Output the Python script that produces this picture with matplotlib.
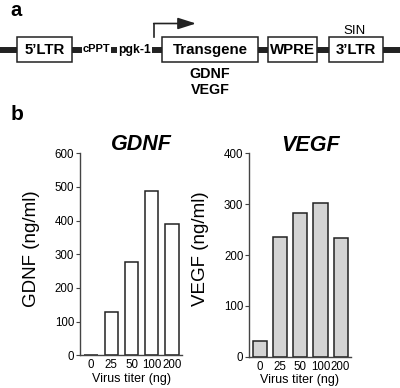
import matplotlib
matplotlib.use("Agg")
import matplotlib.pyplot as plt
from matplotlib.patches import Rectangle

plt.rcParams['font.family'] = ['Liberation Sans', 'DejaVu Sans']

# data
titers = ["0", "25", "50", "100", "200"]
gdnf = [0, 130, 276, 487, 389]
vegf = [31, 235, 283, 302, 233]

# construct map (panel a)
box_labels = ["5\u2019LTR", "Transgene", "WPRE", "3\u2019LTR"]
box_spans = [(17.3, 71.7), (161.7, 258.3), (268.3, 316.7), (329.3, 383.3)]
small_labels = ["cPPT", "pgk-1"]
small_x = [96.5, 134.5]
transgenes = ["GDNF", "VEGF"]

fig = plt.figure(figsize=(4.0, 3.88), dpi=100)

# diagram axes in pixel coordinates
ax0 = fig.add_axes([0, 0, 1, 1])
ax0.set_xlim(0, 400)
ax0.set_ylim(388, 0)
ax0.axis('off')

ax0.plot([0, 400], [50, 50], color='#222222', lw=4.3, solid_capstyle='butt', zorder=1)
for lab, (x0, x1) in zip(box_labels, box_spans):
    ax0.add_patch(Rectangle((x0, 37.3), x1 - x0, 24.4, facecolor='white',
                            edgecolor='#222222', lw=1.1, zorder=2))
    ax0.text((x0 + x1) / 2, 49.8, lab, ha='center', va='center',
             fontsize=10.8, fontweight='bold', zorder=3)
for lab, x, fs in zip(small_labels, small_x, [8.0, 8.7]):
    ax0.text(x, 49.5, lab, ha='center', va='center', fontsize=fs, fontweight='bold',
             zorder=3, bbox=dict(facecolor='white', edgecolor='none', pad=0.8))
for lab, y in zip(transgenes, [73.5, 90]):
    ax0.text(210, y, lab, ha='center', va='center', fontsize=10.3, fontweight='bold')
ax0.text(355, 31.5, "SIN", ha='center', va='center', fontsize=9.5)

# promoter arrow
ax0.plot([154.3, 154.3], [37.3, 23.5], color='#222222', lw=1.2, zorder=2)
ax0.annotate('', xy=(196, 23.5), xytext=(153.7, 23.5),
             arrowprops=dict(arrowstyle='-|>,head_length=1.1,head_width=0.35',
                             color='#222222', lw=1.2, shrinkA=0, shrinkB=0))

ax0.text(16, 10.5, "a", ha='center', va='center', fontsize=14.5, fontweight='bold')
ax0.text(17, 114, "b", ha='center', va='center', fontsize=15, fontweight='bold')

# bar charts (panel b)
panels = [
    ([0.2, 0.0843, 0.255, 0.5206], gdnf, 'white', 600, 0.67, "GDNF", "GDNF (ng/ml)", -0.39, 0.603, 1.046),
    ([0.623, 0.0807, 0.2535, 0.524], vegf, '#d4d4d4', 400, 0.70, "VEGF", "VEGF (ng/ml)", -0.40, 0.604, 1.041),
]

for rect, vals, fc, ymax, bw, title, ylab, lx, tx, ty in panels:
    ax = fig.add_axes(rect)
    pos = range(len(titers))
    ax.bar(pos, vals, width=bw, color=fc, edgecolor='#222222', linewidth=1.1, zorder=2)
    ax.set_xlim(-0.55, 4.5)
    ax.set_ylim(0, ymax)
    ax.set_yticks(range(0, ymax + 1, 100))
    ax.set_xticks(list(pos))
    ax.set_xticklabels(titers)
    for s in ['top', 'right']:
        ax.spines[s].set_visible(False)
    for s in ['left', 'bottom']:
        ax.spines[s].set_color('#444444')
        ax.spines[s].set_linewidth(1.0)
    ax.tick_params(axis='x', length=0, pad=3, labelsize=8.3)
    ax.tick_params(axis='y', length=3, width=0.8, color='#444444', pad=1.2, labelsize=8.3)
    ax.set_xlabel("Virus titer (ng)", fontsize=9, labelpad=1)
    ax.set_ylabel(ylab, fontsize=13.5)
    ax.yaxis.set_label_coords(lx, 0.53)
    ax.text(tx, ty, title, transform=ax.transAxes, ha='center', va='center',
            fontsize=15.5, fontweight='bold', fontstyle='italic')

fig.savefig("out.png", dpi=100)
